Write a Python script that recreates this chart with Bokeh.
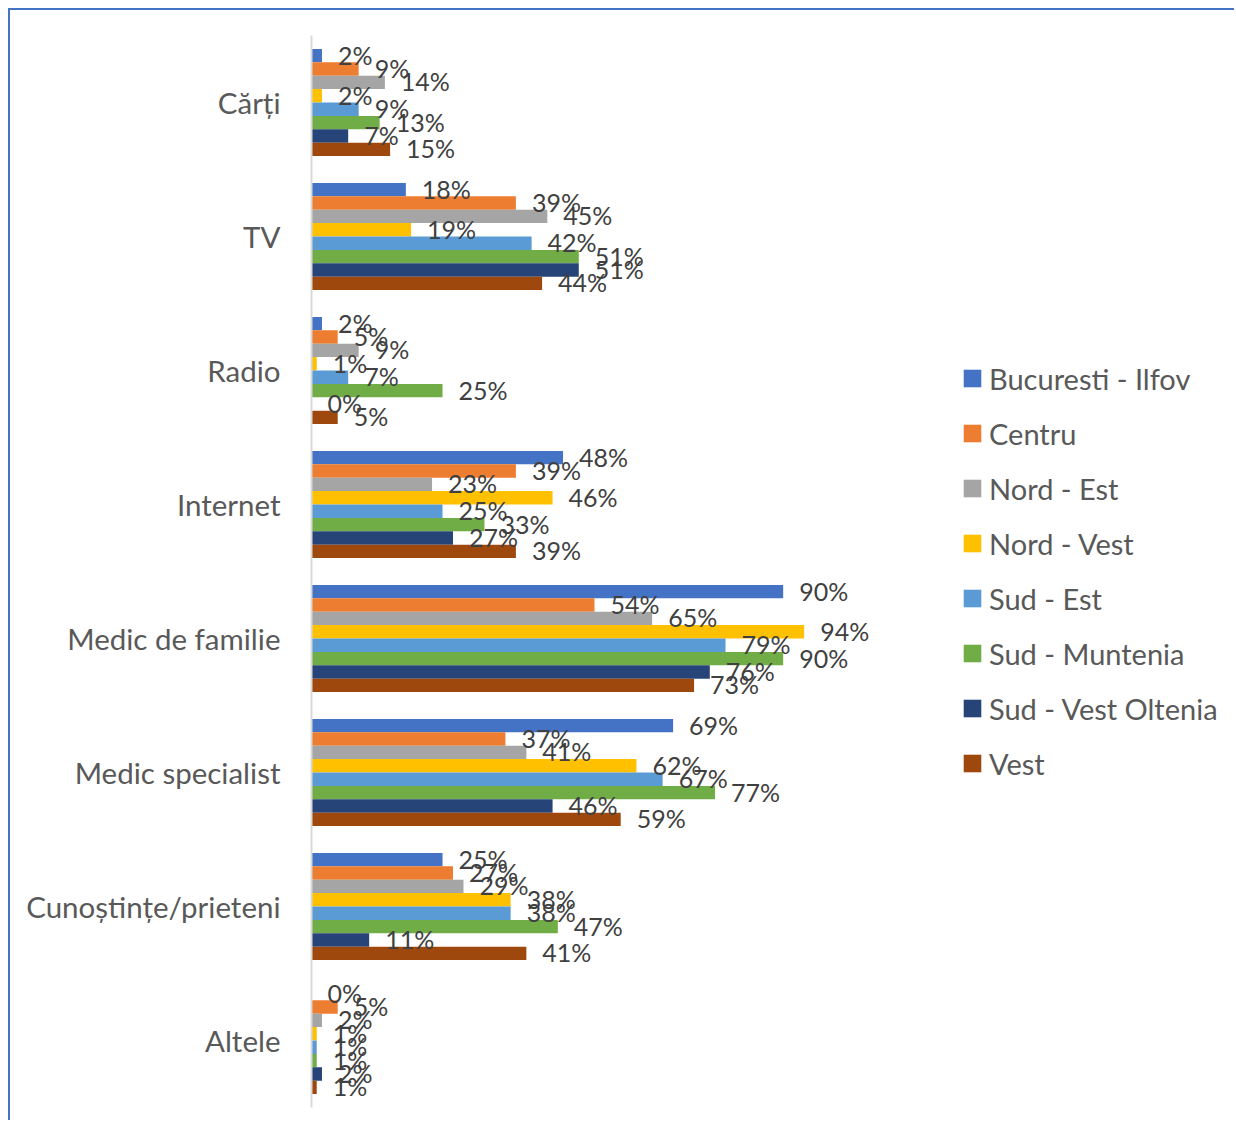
from bokeh.plotting import figure
from bokeh.models import ColumnDataSource, FactorRange, Legend, LegendItem
from bokeh.transform import dodge
from bokeh.core.properties import value
from bokeh.embed import file_html
from bokeh.resources import INLINE

categories = ["Cărți", "TV", "Radio", "Internet", "Medic de familie",
              "Medic specialist", "Cunoștințe/prieteni", "Altele"]
series_names = ["Bucuresti - Ilfov", "Centru", "Nord - Est", "Nord - Vest",
                "Sud - Est", "Sud - Muntenia", "Sud - Vest Oltenia", "Vest"]
colors = ["#4472C4", "#ED7D31", "#A5A5A5", "#FFC000",
          "#5B9BD5", "#70AD47", "#264478", "#9E480E"]

bucuresti_ilfov = [2, 18, 2, 48, 90, 69, 25, 0]
centru = [9, 39, 5, 39, 54, 37, 27, 5]
nord_est = [14, 45, 9, 23, 65, 41, 29, 2]
nord_vest = [2, 19, 1, 46, 94, 62, 38, 1]
sud_est = [9, 42, 7, 25, 79, 67, 38, 1]
sud_muntenia = [13, 51, 25, 33, 90, 77, 47, 1]
sud_vest_oltenia = [7, 51, 0, 27, 76, 46, 11, 2]
vest = [15, 44, 5, 39, 73, 59, 41, 1]

series_values = [bucuresti_ilfov, centru, nord_est, nord_vest,
                 sud_est, sud_muntenia, sud_vest_oltenia, vest]

FONT = "Lato"

p = figure(
    width=1226, height=1112,
    y_range=FactorRange(factors=list(reversed(categories))),
    x_range=(0, 176.5),
    x_axis_location=None,
    output_backend="svg", toolbar_location=None,
    min_border_left=301, min_border_top=25, min_border_bottom=15, min_border_right=0,
)
p.styles = {"border-left": "2px solid #4472C4", "border-top": "2px solid #4472C4",
            "margin-left": "8px", "margin-top": "8px"}
p.outline_line_color = None
p.xgrid.visible = False
p.ygrid.visible = False

bar_h = 0.1
legend_items = []
sources = []
for i, (name, vals, col) in enumerate(zip(series_names, series_values, colors)):
    off = 0.35 - 0.1 * i
    src = ColumnDataSource(dict(cat=categories, val=vals,
                                lab=[f"{v}%" for v in vals]))
    sources.append((off, src))
    r = p.hbar(y=dodge("cat", off, range=p.y_range), left=0, right="val",
               height=bar_h, source=src, fill_color=col, line_color=None)
    legend_items.append(LegendItem(label=name, renderers=[r]))

for off, src in sources:
    p.text(x="val", y=dodge("cat", off, range=p.y_range), text="lab", source=src,
           x_offset=16, y_offset=-1, text_align="left", text_baseline="middle",
           text_font=value(FONT), text_font_size="25px", text_color="#404040")

yax = p.yaxis[0]
yax.axis_line_color = "#D9D9D9"
yax.axis_line_width = 2
yax.major_tick_line_color = None
yax.minor_tick_line_color = None
yax.major_tick_out = 0
yax.major_label_standoff = 31
yax.major_label_text_font = FONT
yax.major_label_text_font_size = "29.5px"
yax.major_label_text_color = "#595959"

legend = Legend(items=legend_items, location=(650, 326))
legend.label_text_font = FONT
legend.label_text_font_size = "29px"
legend.label_text_color = "#595959"
legend.glyph_width = 22
legend.glyph_height = 22
legend.label_standoff = 6
legend.label_height = 36
legend.spacing = 19
legend.padding = 0
legend.margin = 0
legend.border_line_color = None
legend.background_fill_alpha = 0
p.add_layout(legend)

open("out.html", "w").write(file_html(p, INLINE))
